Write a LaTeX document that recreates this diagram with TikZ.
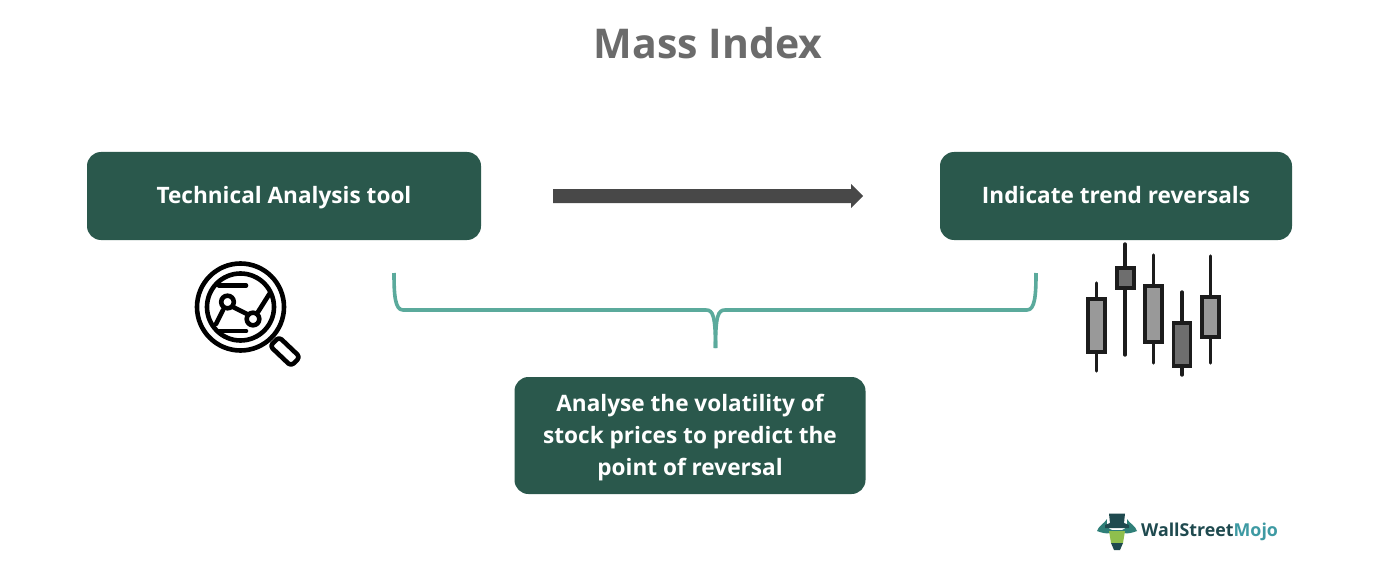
\documentclass[tikz,border=0pt]{standalone}
\usepackage{fontspec}
\setmainfont{Open Sans}
\usetikzlibrary{calc}
\definecolor{boxgreen}{HTML}{2A584C}
\definecolor{bracecol}{HTML}{5BAA9C}
\definecolor{titlegray}{HTML}{6B6B6B}
\definecolor{arrowgray}{HTML}{484848}
\definecolor{candlelight}{HTML}{999999}
\definecolor{candledark}{HTML}{6E6E6E}
\definecolor{candleline}{HTML}{1C1C1C}
\definecolor{logodark}{HTML}{1F4A4F}
\definecolor{logoteal}{HTML}{3E9AA3}
\definecolor{logolime}{HTML}{8FBF4D}
\definecolor{logohorn}{HTML}{2F7F78}
\tikzset{
  x=1pt,y=-1pt,
  greenbox/.style={fill=boxgreen,rounded corners=14pt,text=white,font=\fontsize{22.6}{32}\selectfont\bfseries,align=center,inner sep=0pt,anchor=center},
  glass/.style={draw=black,line width=4.6pt,line cap=round,line join=round},
  wick/.style={draw=candleline,line width=3.4pt,line cap=round},
  candlebox/.style={draw=candleline,line width=3.6pt,line join=miter}
}
\begin{document}
\begin{tikzpicture}
\useasboundingbox (0,0) rectangle (1379,583);
\fill[white] (0,0) rectangle (1379,583);
\node[text=titlegray,font=\fontsize{41}{50}\selectfont\bfseries,inner sep=0pt] (title) at (708,43) {Mass Index};

\node[greenbox,minimum width=394pt,minimum height=88pt,text height=17pt,text depth=2pt] (tool) at (284,196) {Technical Analysis tool};
\node[greenbox,minimum width=352pt,minimum height=88pt,text height=17pt,text depth=2pt] (trend) at (1116,196) {Indicate trend reversals};
\fill[boxgreen,rounded corners=14pt] (514.5,377) rectangle (865.5,494);
\node[inner sep=0pt,text=white,font=\fontsize{22.6}{32}\selectfont\bfseries,align=center] (vol) at (690,438) {Analyse the volatility of\\stock prices to predict the\\point of reversal};

% arrow
\fill[arrowgray] (553,189) -- (851,189) -- (851,184) -- (863,196) -- (851,208) -- (851,203) -- (553,203) -- cycle;

% brace
\draw[bracecol,line width=3.6pt,line cap=butt,line join=round]
  (394,273) .. controls (394,295) and (395,310) .. (403,310)
  -- (706,310) .. controls (713,310) and (715.5,316) .. (715.5,348);
\draw[bracecol,line width=3.6pt,line cap=butt,line join=round]
  (1036,273) .. controls (1036,295) and (1035,310) .. (1027,310)
  -- (725,310) .. controls (718,310) and (715.5,316) .. (715.5,348);

% magnifier
\draw[glass] (240.5,307) circle (43.5);
\draw[glass] (240.5,307) circle (33.5);
\draw[glass] (219,285.5) -- (246,285.5);
\draw[glass] (219,331) -- (246,331);
\draw[glass] (216,324) -- (223,310);
\draw[glass] (233,307) -- (247,314);
\draw[glass] (258,312) -- (270,293);
\draw[glass] (227.5,302) circle (6.3);
\draw[glass] (253,319) circle (6.3);
\draw[glass,rounded corners=3.5pt] (279,337) -- (300,357) -- (291,366) -- (270,346) -- cycle;

% candlesticks
\draw[wick] (1096.5,283) -- (1096.5,371);
\fill[candlelight] (1088,299) rectangle (1105,352);
\draw[candlebox] (1088,299) rectangle (1105,352);
\draw[wick] (1125,244) -- (1125,355);
\fill[candledark] (1117,268) rectangle (1134,288);
\draw[candlebox] (1117,268) rectangle (1134,288);
\draw[wick] (1153.5,255) -- (1153.5,363);
\fill[candlelight] (1145,286) rectangle (1162,342);
\draw[candlebox] (1145,286) rectangle (1162,342);
\draw[wick] (1182,292) -- (1182,375);
\fill[candledark] (1173.5,323) rectangle (1190.5,366);
\draw[candlebox] (1173.5,323) rectangle (1190.5,366);
\draw[wick] (1210.5,256) -- (1210.5,363);
\fill[candlelight] (1202,297) rectangle (1219,337);
\draw[candlebox] (1202,297) rectangle (1219,337);

% logo
\fill[logohorn] (1097,531) .. controls (1099,525) and (1104,524) .. (1107,519) .. controls (1106,525) and (1108,529) .. (1112,530) -- (1122,530) .. controls (1126,529) and (1128,525) .. (1127,519) .. controls (1130,524) and (1135,525) .. (1137,531) .. controls (1132,533) and (1127,534) .. (1124,533) -- (1110,533) .. controls (1107,534) and (1102,533) .. (1097,531) -- cycle;
\fill[logolime] (1109,531) -- (1125,531) -- (1123,543) -- (1111,543) -- cycle;
\fill[logodark] (1109,513.5) -- (1125,513.5) -- (1124,523) -- (1129,525) -- (1129,528) -- (1105,528) -- (1105,525) -- (1110,523) -- cycle;
\fill[logodark] (1111,543) -- (1123,543) -- (1120,550) -- (1114,550) -- cycle;
\node[anchor=west,inner sep=0pt,font=\fontsize{17.8}{22}\selectfont\bfseries] (logo) at (1141,531.5) {\textcolor{logodark}{WallStreet}\textcolor{logoteal}{Mojo}};
\end{tikzpicture}
\end{document}
